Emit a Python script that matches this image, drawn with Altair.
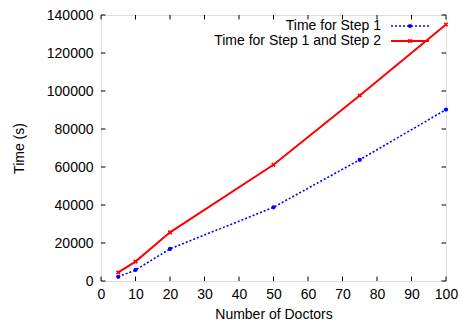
import altair as alt
import pandas as pd

doctors = [5, 10, 20, 50, 75, 100]
step1 = [2200, 5800, 16900, 38800, 63800, 90200]
step12 = [4500, 10200, 25600, 61200, 97600, 135000]
series_names = ["Time for Step 1", "Time for Step 1 and Step 2"]
x_ticks = [0, 10, 20, 30, 40, 50, 60, 70, 80, 90, 100]
y_ticks = [0, 20000, 40000, 60000, 80000, 100000, 120000, 140000]

W, H = 345, 266
FONT = "Liberation Sans"
FS = 14
BLUE = "#0000ff"
RED = "#ff0000"

df1 = pd.DataFrame({"x": doctors, "y": step1})
df2 = pd.DataFrame({"x": doctors, "y": step12})
dfx = pd.DataFrame({"x": x_ticks})
dfy = pd.DataFrame({"y": y_ticks})

xscale = alt.Scale(domain=[0, 100], nice=False, zero=False)
yscale = alt.Scale(domain=[0, 140000], nice=False, zero=False)

xaxis = alt.Axis(values=x_ticks, grid=False, ticks=False, domain=False, format="d",
                 labelFont=FONT, labelFontSize=FS, labelColor="black",
                 labelPadding=6, titleFont=FONT,
                 titleFontSize=FS, titleFontWeight="normal", titleColor="black",
                 titlePadding=6, labelFlush=False)
yaxis = alt.Axis(values=y_ticks, grid=False, ticks=False, domain=False, format="d",
                 labelFont=FONT, labelFontSize=FS, labelColor="black",
                 labelPadding=8, titleFont=FONT,
                 titleFontSize=FS, titleFontWeight="normal", titleColor="black",
                 titlePadding=20, labelFlush=False)

X = alt.X("x:Q", scale=xscale, axis=xaxis, title="Number of Doctors")
Y = alt.Y("y:Q", scale=yscale, axis=yaxis, title="Time (s)")

xshape = "M-1,-1L1,1M-1,1L1,-1"

line1 = alt.Chart(df1).mark_line(color=BLUE, strokeWidth=1.6, strokeDash=[2, 2]).encode(x=X, y=Y)
pts1 = alt.Chart(df1).mark_point(color=BLUE, filled=True, size=18, opacity=1).encode(x=X, y=Y)
line2 = alt.Chart(df2).mark_line(color=RED, strokeWidth=2).encode(x=X, y=Y)
pts2 = alt.Chart(df2).mark_point(color=RED, shape=xshape, size=12, strokeWidth=1.6,
                                 filled=False, opacity=1).encode(x=X, y=Y)

TL = 4.5
xt_bot = alt.Chart(dfx).mark_rule(color="black", strokeWidth=1).encode(
    x=X, y=alt.value(H - TL), y2=alt.value(H))
xt_top = alt.Chart(dfx).mark_rule(color="black", strokeWidth=1).encode(
    x=X, y=alt.value(0), y2=alt.value(TL))
yt_left = alt.Chart(dfy).mark_rule(color="black", strokeWidth=1).encode(
    y=Y, x=alt.value(0), x2=alt.value(TL))
yt_right = alt.Chart(dfy).mark_rule(color="black", strokeWidth=1).encode(
    y=Y, x=alt.value(W - TL), x2=alt.value(W))

# legend
ly = [11, 26]
LX = 280
leg_text1 = alt.Chart(pd.DataFrame({"name": [series_names[0]]})).mark_text(
    align="right", baseline="middle", font=FONT, fontSize=FS, color="black").encode(
    text="name:N", x=alt.value(LX), y=alt.value(ly[0]))
leg_text2 = alt.Chart(pd.DataFrame({"name": [series_names[1]]})).mark_text(
    align="right", baseline="middle", font=FONT, fontSize=FS, color="black").encode(
    text="name:N", x=alt.value(LX), y=alt.value(ly[1]))
leg_line1 = alt.Chart(pd.DataFrame({"a": [0]})).mark_rule(
    color=BLUE, strokeWidth=1.6, strokeDash=[2, 2]).encode(
    x=alt.value(LX + 10), x2=alt.value(LX + 48), y=alt.value(ly[0]))
leg_line2 = alt.Chart(pd.DataFrame({"a": [0]})).mark_rule(
    color=RED, strokeWidth=2).encode(
    x=alt.value(LX + 10), x2=alt.value(LX + 48), y=alt.value(ly[1]))
leg_pt1 = alt.Chart(pd.DataFrame({"a": [0]})).mark_point(
    color=BLUE, filled=True, size=18, opacity=1).encode(
    x=alt.value(LX + 29), y=alt.value(ly[0]))
leg_pt2 = alt.Chart(pd.DataFrame({"a": [0]})).mark_point(
    color=RED, shape=xshape, size=12, strokeWidth=1.6, filled=False, opacity=1).encode(
    x=alt.value(LX + 29), y=alt.value(ly[1]))

chart = alt.layer(
    line1, pts1, line2, pts2, xt_bot, xt_top, yt_left, yt_right,
    leg_line1, leg_line2, leg_pt1, leg_pt2, leg_text1, leg_text2,
).properties(
    width=W, height=H,
    autosize=alt.AutoSizeParams(type="none"),
    padding={"left": 93, "top": 7, "right": 12, "bottom": 40},
).configure_view(stroke="black", strokeWidth=1.2).configure(background="white")

chart.save("out.html", embed_options={"renderer": "svg", "actions": False})
